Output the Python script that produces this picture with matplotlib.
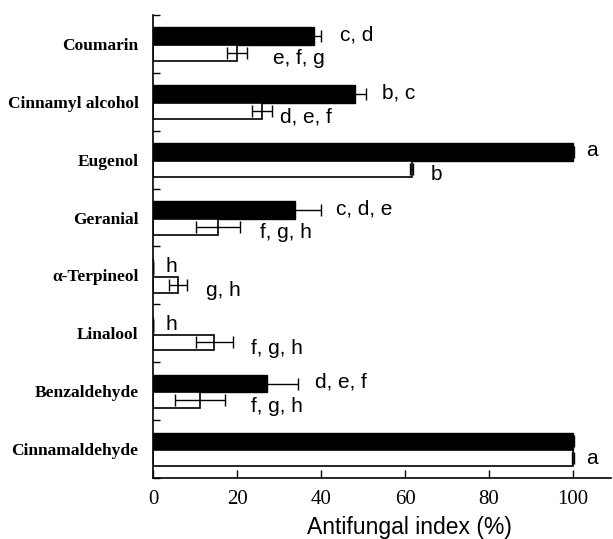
import matplotlib
matplotlib.use("Agg")
import matplotlib.pyplot as plt
import numpy as np

compounds = ["Cinnamaldehyde", "Benzaldehyde", "Linalool", "\u03b1-Terpineol",
             "Geranial", "Eugenol", "Cinnamyl alcohol", "Coumarin"]

# black bars (upper) and white bars (lower), bottom to top
black_vals = [100, 27.1, 0, 0, 33.8, 100, 48.1, 38.3]
black_err = [0.3, 7.3, 0, 0, 6.3, 0.3, 2.5, 1.8]
black_tags = ["", "d, e, f", "h", "h", "c, d, e", "a", "b, c", "c, d"]
black_tag_x = [103, 38.5, 3, 3, 43.5, 103, 54.5, 44.5]

white_vals = [100, 11.2, 14.6, 5.9, 15.5, 61.6, 25.9, 20.0]
white_err = [0.3, 5.9, 4.4, 2.2, 5.2, 0.3, 2.4, 2.4]
white_tags = ["a", "f, g, h", "f, g, h", "g, h", "f, g, h", "b", "d, e, f", "e, f, g"]
white_tag_x = [103, 23.3, 23.3, 12.5, 25.5, 66, 30.2, 28.6]
white_tag_dy = [0.0, -0.1, -0.1, -0.1, -0.1, -0.1, -0.1, -0.1]

serif = ["Liberation Serif", "DejaVu Serif"]
sans = ["Liberation Sans", "DejaVu Sans"]

fig = plt.figure(figsize=(6.13, 5.39), dpi=100)
ax = fig.add_axes([0.2496, 0.1132, 0.7469, 0.859])

y = np.arange(len(compounds))
yb = y + 0.132
yw = y - 0.159

ax.barh(yb, black_vals, height=0.305, color="black", edgecolor="black", linewidth=1.0)
ax.barh(yw, white_vals, height=0.276, color="white", edgecolor="black", linewidth=1.2)
ax.errorbar(black_vals, yb, xerr=black_err, fmt="none", ecolor="black",
            elinewidth=1.0, capsize=4, capthick=1.0)
ax.errorbar(white_vals, yw, xerr=white_err, fmt="none", ecolor="black",
            elinewidth=1.0, capsize=4, capthick=1.0)

for i in range(len(compounds)):
    ax.text(black_tag_x[i], yb[i] + 0.02, black_tags[i], ha="left", va="center",
            fontsize=15, family=sans)
    ax.text(white_tag_x[i], yw[i] + white_tag_dy[i], white_tags[i], ha="left",
            va="center", fontsize=15, family=sans)

ax.set_xlim(0, 109)
ax.set_ylim(-0.5, 7.5)
ax.set_xticks([0, 20, 40, 60, 80, 100])
ax.set_xticklabels(["0", "20", "40", "60", "80", "100"], family=serif, fontsize=15)
ax.set_yticks(y)
ax.set_yticklabels(compounds, family=serif, fontweight="bold", fontsize=12.5)
ax.set_yticks(np.arange(-0.5, 8, 1), minor=True)
ax.tick_params(axis="y", which="major", length=0, pad=10.5)
ax.tick_params(axis="y", which="minor", direction="in", length=5, width=1)
ax.tick_params(axis="x", direction="in", length=6, width=1, pad=9)
ax.set_xlabel("Antifungal index (%)", family=sans, fontsize=16.5)
ax.xaxis.set_label_coords(0.561, -0.082)

for s in ["top", "right"]:
    ax.spines[s].set_visible(False)
for s in ["left", "bottom"]:
    ax.spines[s].set_linewidth(1.2)

fig.savefig("out.png", dpi=100)
